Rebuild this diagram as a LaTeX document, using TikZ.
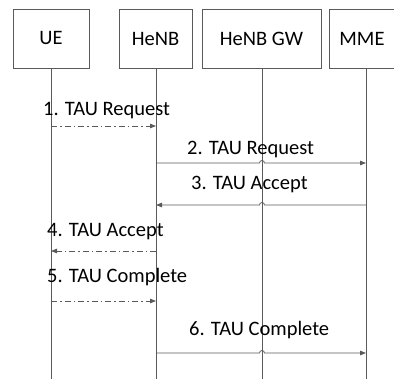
\documentclass[tikz,border=0pt]{standalone}
\usepackage{fontspec}
\setmainfont{Carlito}
\usetikzlibrary{arrows.meta}
\definecolor{ln}{HTML}{5A5A5A}
\tikzset{
  actor/.style={draw=ln, line width=0.8pt, fill=white, minimum height=59pt, inner sep=0pt, font=\fontsize{20.5}{22}\selectfont},
  life/.style={draw=ln, line width=0.8pt},
  msg/.style={draw=ln, line width=0.8pt, -{Triangle[length=6pt,width=4.5pt]}},
  dmsg/.style={msg, dash pattern=on 6pt off 3pt on 1.5pt off 3pt},
  lbl/.style={anchor=base west, inner sep=0pt, font=\fontsize{20.5}{22}\selectfont}
}
\begin{document}
\begin{tikzpicture}[x=1pt,y=-1pt]
\useasboundingbox (0,0) rectangle (394,379);
\clip (0,0) rectangle (394,379);
% actors
\node[actor, minimum width=76pt] (ue) at (51,38.5) {UE};
\node[actor, minimum width=73pt] (henb) at (155.5,38.5) {HeNB};
\node[actor, minimum width=119pt] (gw) at (261.5,38.5) {HeNB GW};
\node[actor, minimum width=66pt] (mme) at (362,38.5) {MME};
% lifeline ends
\coordinate (ueE) at (51,380);
\coordinate (henbE) at (156,380);
\coordinate (gwE) at (262,380);
\coordinate (mmeE) at (366,380);
\draw[life] (ue.south) coordinate (ueS) -- (ueE);
\draw[life] (156,68) coordinate (henbS) -- (henbE);
\draw[life] (262,68) coordinate (gwS) -- (gwE);
\draw[life] (366,68) coordinate (mmeS) -- (mmeE);
% message points
\coordinate (ue1) at (51,126);   \coordinate (henb1) at (156,126);
\coordinate (henb2) at (156,163); \coordinate (gw2) at (262,163); \coordinate (mme2) at (366,163);
\coordinate (henb3) at (156,205); \coordinate (gw3) at (262,205); \coordinate (mme3) at (366,205);
\coordinate (ue4) at (51,251);   \coordinate (henb4) at (156,251);
\coordinate (ue5) at (51,301);   \coordinate (henb5) at (156,301);
\coordinate (henb6) at (156,353); \coordinate (gw6) at (262,353); \coordinate (mme6) at (366,353);
% messages
\draw[dmsg] (ue1) -- (henb1);
\node[lbl] (l1) at (43,116) {1. TAU Request};
\draw[msg] (henb2) -- ([xshift=-2.5pt]gw2) arc[start angle=180,end angle=0,radius=2.5pt] -- (mme2);
\node[lbl] (l2) at (187,155) {2. TAU Request};
\draw[msg] (mme3) -- ([xshift=2.5pt]gw3) arc[start angle=0,end angle=180,radius=2.5pt] -- (henb3);
\node[lbl] (l3) at (191,190) {3. TAU Accept};
\draw[dmsg] (henb4) -- (ue4);
\node[lbl] (l4) at (47,237) {4. TAU Accept};
\draw[dmsg] (ue5) -- (henb5);
\node[lbl] (l5) at (47,283) {5. TAU Complete};
\draw[msg] (henb6) -- ([xshift=-2.5pt]gw6) arc[start angle=180,end angle=0,radius=2.5pt] -- (mme6);
\node[lbl] (l6) at (189,336) {6. TAU Complete};
\end{tikzpicture}
\end{document}
